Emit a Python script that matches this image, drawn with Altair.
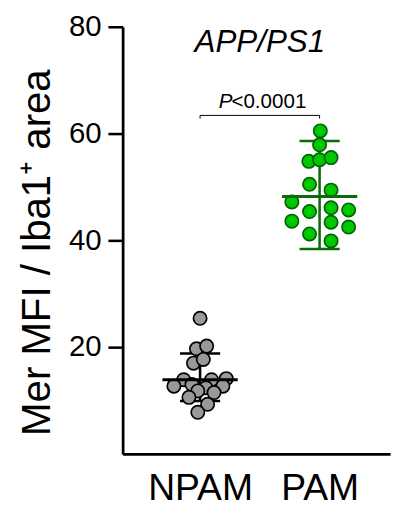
import altair as alt
import pandas as pd

# ---- data ----
groups = ["NPAM", "PAM"]
group_pos = [1, 2]

npam_values = [25.4, 19.7, 20.2, 17.0, 17.7, 13.9, 12.7, 13.0, 13.9, 14.1,
               12.7, 12.4, 11.8, 11.5, 10.6, 9.3, 7.8]
npam_offsets = [0.0, -0.03, 0.055, -0.055, 0.027, -0.137, -0.219, -0.068, 0.096,
                0.219, 0.191, 0.049, -0.019, 0.117, -0.093, 0.063, -0.019]

pam_values = [60.5, 57.9, 54.8, 55.1, 55.5, 50.5, 49.4, 47.2, 45.4, 46.1,
              45.7, 43.6, 43.4, 42.5, 41.2, 39.9]
pam_offsets = [0.006, 0.0, -0.09, 0.0, 0.096, -0.084, 0.096, -0.232, -0.084, 0.096,
               0.243, -0.232, 0.096, 0.243, -0.084, 0.096]

group_mean = [13.9, 48.2]
group_sd_low = [9.9, 38.4]
group_sd_high = [18.8, 58.6]

y_ticks = [20, 40, 60, 80]
title_text = "APP/PS1"
p_prefix = "P"
p_text = "<0.0001"
bracket_y = 63.4
bracket_tip = 62.8
p_text_y = 64.8
title_y = 75.3

FONT = "Liberation Sans"
fills = ["#999999", "#00C800"]
strokes = ["#000000", "#006400"]
lines = ["#000000", "#0B6B0B"]

# ---- tables ----
pts = pd.DataFrame({
    "x": [group_pos[0] + o for o in npam_offsets] + [group_pos[1] + o for o in pam_offsets],
    "y": npam_values + pam_values,
    "group": [groups[0]] * len(npam_values) + [groups[1]] * len(pam_values),
})
stats = pd.DataFrame({
    "group": groups,
    "pos": group_pos,
    "mean": group_mean,
    "lo": group_sd_low,
    "hi": group_sd_high,
})
stats["m1"] = stats["pos"] - 0.315
stats["m2"] = stats["pos"] + 0.315
stats["c1"] = stats["pos"] - 0.168
stats["c2"] = stats["pos"] + 0.168

xscale = alt.Scale(domain=[0.352, 2.59], nice=False, zero=False)
yscale = alt.Scale(domain=[0, 80], nice=False)

color_fill = alt.Scale(domain=groups, range=fills)
color_stroke = alt.Scale(domain=groups, range=strokes)
color_line = alt.Scale(domain=groups, range=lines)

base_x = alt.X("x:Q", scale=xscale,
               axis=alt.Axis(values=group_pos, labelExpr="datum.value == 1 ? 'NPAM' : 'PAM'",
                             ticks=False, grid=False, domainWidth=2.8, domainColor="black",
                             labelFontSize=38, labelFont=FONT, labelColor="black",
                             labelPadding=16, title=None))
base_y = alt.Y("y:Q", scale=yscale,
               axis=alt.Axis(values=y_ticks, grid=False, tickSize=15, tickWidth=2.6,
                             tickColor="black", domainWidth=2.8, domainColor="black",
                             labelFontSize=30, labelFont=FONT, labelColor="black",
                             labelPadding=7, title="Mer MFI / Iba1⁺ area",
                             titleFont=FONT, titleFontSize=41, titleFontWeight="normal",
                             titleColor="black", titlePadding=10, titleY=230))

points = alt.Chart(pts).mark_point(filled=True, size=185, strokeWidth=1.7, opacity=1,
                                   shape="circle").encode(
    x=base_x, y=base_y,
    fill=alt.Fill("group:N", scale=color_fill, legend=None),
    stroke=alt.Stroke("group:N", scale=color_stroke, legend=None),
)

mean_rule = alt.Chart(stats).mark_rule(strokeWidth=3).encode(
    x=alt.X("m1:Q", scale=xscale), x2="m2:Q",
    y=alt.Y("mean:Q", scale=yscale),
    color=alt.Color("group:N", scale=color_line, legend=None),
)
cap_hi = alt.Chart(stats).mark_rule(strokeWidth=2.6).encode(
    x=alt.X("c1:Q", scale=xscale), x2="c2:Q",
    y=alt.Y("hi:Q", scale=yscale),
    color=alt.Color("group:N", scale=color_line, legend=None),
)
cap_lo = alt.Chart(stats).mark_rule(strokeWidth=2.6).encode(
    x=alt.X("c1:Q", scale=xscale), x2="c2:Q",
    y=alt.Y("lo:Q", scale=yscale),
    color=alt.Color("group:N", scale=color_line, legend=None),
)
vert = alt.Chart(stats).mark_rule(strokeWidth=2.6).encode(
    x=alt.X("pos:Q", scale=xscale),
    y=alt.Y("lo:Q", scale=yscale), y2="hi:Q",
    color=alt.Color("group:N", scale=color_line, legend=None),
)

br = pd.DataFrame({"x1": [group_pos[0]], "x2": [group_pos[1]], "y": [bracket_y],
                   "t": [bracket_tip], "xm": [(group_pos[0] + group_pos[1]) / 2],
                   "py": [p_text_y], "ty": [title_y]})
bracket_h = alt.Chart(br).mark_rule(strokeWidth=1, color="black").encode(
    x=alt.X("x1:Q", scale=xscale), x2="x2:Q", y=alt.Y("y:Q", scale=yscale))
bracket_l = alt.Chart(br).mark_rule(strokeWidth=1, color="black").encode(
    x=alt.X("x1:Q", scale=xscale), y=alt.Y("y:Q", scale=yscale), y2="t:Q")
bracket_r = alt.Chart(br).mark_rule(strokeWidth=1, color="black").encode(
    x=alt.X("x2:Q", scale=xscale), y=alt.Y("y:Q", scale=yscale), y2="t:Q")

p_italic = alt.Chart(br).mark_text(text=p_prefix, font=FONT, fontSize=21, fontStyle="italic",
                                   align="right", baseline="alphabetic", dx=-28,
                                   color="black").encode(
    x=alt.X("xm:Q", scale=xscale), y=alt.Y("py:Q", scale=yscale))
p_rest = alt.Chart(br).mark_text(text=p_text, font=FONT, fontSize=21,
                                 align="left", baseline="alphabetic", dx=-29,
                                 color="black").encode(
    x=alt.X("xm:Q", scale=xscale), y=alt.Y("py:Q", scale=yscale))
title = alt.Chart(br).mark_text(text=title_text, font=FONT, fontSize=32, fontStyle="italic",
                                align="center", baseline="alphabetic",
                                color="black").encode(
    x=alt.X("xm:Q", scale=xscale), y=alt.Y("ty:Q", scale=yscale))

chart = alt.layer(
    vert, cap_hi, cap_lo, points, mean_rule,
    bracket_h, bracket_l, bracket_r, p_italic, p_rest, title
).properties(
    width=273, height=436,
    autosize=alt.AutoSizeParams(type="none"),
    padding={"left": 117, "top": 14, "right": 5, "bottom": 50},
).configure_view(stroke=None)

chart.save("out.html", embed_options={"renderer": "svg", "actions": False})
